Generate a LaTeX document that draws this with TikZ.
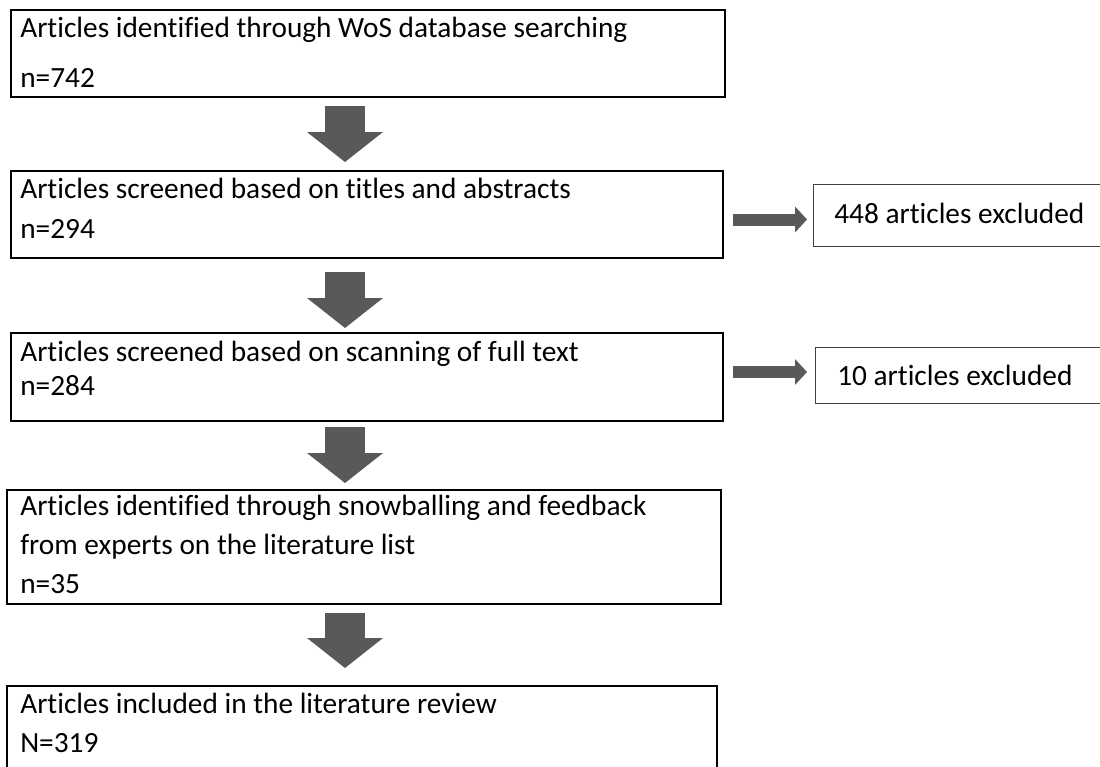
\documentclass[tikz,border=0pt]{standalone}
\usepackage{fontspec}
\setmainfont{Carlito}[Ligatures=NoCommon]
\usetikzlibrary{arrows.meta,calc}
\definecolor{arrowgray}{HTML}{595959}
\definecolor{edgegray}{HTML}{404040}
\begin{document}
\begin{tikzpicture}[x=0.75pt,y=-0.75pt,
  mainbox/.style={draw=black, line width=1.5pt, rectangle, anchor=north west, inner sep=0pt, outer sep=0pt},
  sidebox/.style={draw=edgegray, line width=0.75pt, rectangle, anchor=north west, inner sep=0pt, outer sep=0pt},
  maintext/.style={anchor=base west, inner sep=0pt, align=flush left, text width=520pt, font=\fontsize{22}{#1}\selectfont},
  sidetext/.style={anchor=base west, inner sep=0pt, font=\fontsize{22}{26}\selectfont},
  bigarrow/.style={draw=arrowgray, line width=30pt, -{Triangle[width=57pt,length=22.5pt,line width=0pt]}},
  sidearrow/.style={draw=arrowgray, line width=9pt, -{Triangle[width=19.5pt,length=9pt,line width=0pt]}}
]
\useasboundingbox (0,0) rectangle (1100,767);
% boxes
\node[mainbox, minimum width=535.5pt, minimum height=65.25pt] (b1) at (11,10) {};
\node[mainbox, minimum width=534pt, minimum height=65.25pt] (b2) at (11,171) {};
\node[mainbox, minimum width=534pt, minimum height=66pt] (b3) at (11,333) {};
\node[mainbox, minimum width=535.5pt, minimum height=85.5pt] (b4) at (7,490) {};
\node[mainbox, minimum width=532.5pt, minimum height=67.5pt] (b5) at (7,686) {};
\node[sidebox, minimum width=225pt, minimum height=46.5pt] (r1) at (813,184) {};
\node[sidebox, minimum width=225pt, minimum height=42pt] (r2) at (815,347) {};
% texts
\node[maintext=37.5pt] (t1) at (20,37.5) {Articles identified through WoS database searching\\n=742};
\node[maintext=30pt] (t2) at (20,198) {Articles screened based on titles and abstracts\\n=294};
\node[maintext=25.5pt] (t3) at (20,361) {Articles screened based on scanning of full text\\n=284};
\node[maintext=29.25pt] (t4) at (20,515) {Articles identified through snowballing and feedback\\from experts on the literature list\\n=35};
\node[maintext=29.25pt] (t5) at (20,713) {Articles included in the literature review\\N=319};
\node[sidetext] (s1) at (834,223) {448 articles excluded};
\node[sidetext] (s2) at (837,385) {10 articles excluded};
% arrows
\coordinate (ax) at (345,0);
\draw[bigarrow] ($(b1.south -| ax)+(0,9)$) -- ($(b2.north -| ax)+(0,-9)$);
\draw[bigarrow] ($(b2.south -| ax)+(0,14)$) -- ($(b3.north -| ax)+(0,-5)$);
\draw[bigarrow] ($(b3.south -| ax)+(0,6)$) -- ($(b4.north -| ax)+(0,-7)$);
\draw[bigarrow] ($(b4.south -| ax)+(0,9)$) -- ($(b5.north -| ax)+(0,-18)$);
\draw[sidearrow] ($(b2.east)+(10,5)$) -- ($(r1.west |- b2.east)+(-6,5)$);
\draw[sidearrow] ($(b3.east)+(10,-5)$) -- ($(r2.west |- b3.east)+(-8,-5)$);
\end{tikzpicture}
\end{document}
